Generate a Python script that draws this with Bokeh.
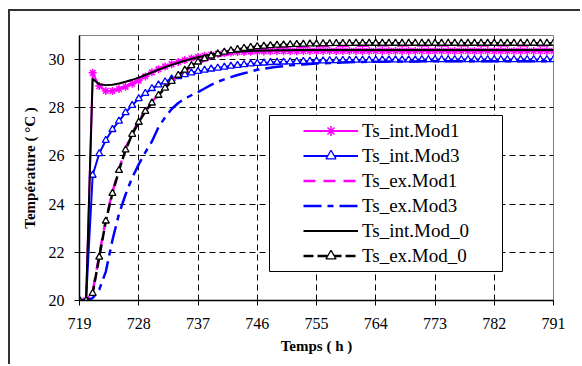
from bokeh.plotting import figure
from bokeh.models import Range1d, FixedTicker, BoxAnnotation
from bokeh.embed import file_html
from bokeh.resources import INLINE

hours = list(range(719, 792))
x_ticks = [719, 728, 737, 746, 755, 764, 773, 782, 791]
y_ticks = [20, 22, 24, 26, 28, 30]

ts_int_mod1 = [20.0, 20.0, 29.45, 28.9, 28.7, 28.7, 28.78, 28.87, 29.0, 29.13,
               29.3, 29.47, 29.6, 29.71, 29.81, 29.9, 29.98, 30.05, 30.11, 30.16,
               30.2, 30.24, 30.27, 30.29, 30.31, 30.32, 30.33, 30.34, 30.34, 30.35,
               30.35, 30.35, 30.35, 30.35, 30.36, 30.36, 30.36, 30.36, 30.36, 30.36,
               30.36, 30.36, 30.36, 30.36, 30.36, 30.36, 30.36, 30.36, 30.36, 30.36,
               30.36, 30.36, 30.36, 30.36, 30.36, 30.36, 30.36, 30.36, 30.36, 30.36,
               30.36, 30.36, 30.36, 30.36, 30.36, 30.36, 30.36, 30.36, 30.36, 30.36,
               30.36, 30.36, 30.36]
ts_int_mod3 = [20.0, 20.0, 25.2, 26.1, 26.65, 27.1, 27.45, 27.8, 28.1, 28.38,
               28.6, 28.8, 28.95, 29.08, 29.2, 29.3, 29.38, 29.45, 29.51, 29.56,
               29.61, 29.65, 29.69, 29.73, 29.76, 29.79, 29.82, 29.84, 29.86, 29.88,
               29.89, 29.9, 29.91, 29.92, 29.93, 29.94, 29.95, 29.95, 29.96, 29.96,
               29.97, 29.97, 29.98, 29.98, 29.98, 29.98, 29.99, 29.99, 29.99, 29.99,
               29.99, 29.99, 30.0, 30.0, 30.0, 30.0, 30.0, 30.0, 30.0, 30.0,
               30.0, 30.0, 30.0, 30.0, 30.0, 30.0, 30.0, 30.0, 30.0, 30.0,
               30.0, 30.0, 30.0]
ts_ex_mod1 = [20.0, 20.0, 20.35, 21.9, 23.35, 24.5, 25.45, 26.3, 26.95, 27.45,
              27.9, 28.25, 28.55, 28.85, 29.1, 29.33, 29.52, 29.7, 29.84, 29.96,
              30.06, 30.14, 30.21, 30.27, 30.32, 30.36, 30.4, 30.43, 30.45, 30.47,
              30.49, 30.5, 30.51, 30.52, 30.53, 30.54, 30.55, 30.55, 30.56, 30.56,
              30.56, 30.57, 30.57, 30.57, 30.57, 30.58, 30.58, 30.58, 30.58, 30.58,
              30.58, 30.58, 30.58, 30.58, 30.58, 30.58, 30.58, 30.58, 30.58, 30.58,
              30.58, 30.58, 30.58, 30.58, 30.58, 30.58, 30.58, 30.58, 30.58, 30.58,
              30.58, 30.58, 30.58]
ts_ex_mod3 = [20.0, 20.0, 20.1, 20.45, 21.2, 22.5, 23.6, 24.4, 25.1, 25.65,
              26.15, 26.6, 27.2, 27.6, 27.95, 28.2, 28.38, 28.52, 28.65, 28.8,
              28.95, 29.08, 29.18, 29.27, 29.36, 29.43, 29.5, 29.58, 29.62, 29.66,
              29.7, 29.73, 29.76, 29.78, 29.8, 29.82, 29.84, 29.85, 29.86, 29.87,
              29.88, 29.89, 29.9, 29.9, 29.91, 29.91, 29.91, 29.92, 29.92, 29.92,
              29.92, 29.92, 29.93, 29.93, 29.93, 29.93, 29.93, 29.93, 29.93, 29.93,
              29.93, 29.93, 29.93, 29.93, 29.93, 29.93, 29.93, 29.93, 29.93, 29.93,
              29.93, 29.93, 29.93]
ts_int_mod_0 = [20.0, 20.0, 29.2, 28.98, 28.94, 28.96, 29.01, 29.08, 29.16, 29.25,
                29.36, 29.47, 29.58, 29.68, 29.78, 29.87, 29.95, 30.03, 30.1, 30.16,
                30.21, 30.25, 30.28, 30.31, 30.33, 30.35, 30.36, 30.37, 30.38, 30.38,
                30.39, 30.39, 30.39, 30.4, 30.4, 30.4, 30.4, 30.4, 30.4, 30.4,
                30.4, 30.4, 30.4, 30.4, 30.4, 30.4, 30.4, 30.4, 30.4, 30.4,
                30.4, 30.4, 30.4, 30.4, 30.4, 30.4, 30.4, 30.4, 30.4, 30.4,
                30.4, 30.4, 30.4, 30.4, 30.4, 30.4, 30.4, 30.4, 30.4, 30.4,
                30.4, 30.4, 30.4]
ts_ex_mod_0 = [20.0, 20.0, 20.3, 21.8, 23.3, 24.45, 25.4, 26.25, 26.9, 27.4,
               27.85, 28.2, 28.52, 28.82, 29.1, 29.35, 29.56, 29.75, 29.9, 30.04,
               30.15, 30.24, 30.31, 30.37, 30.42, 30.47, 30.51, 30.54, 30.56, 30.58,
               30.6, 30.61, 30.62, 30.63, 30.64, 30.65, 30.65, 30.66, 30.66, 30.67,
               30.67, 30.67, 30.68, 30.68, 30.68, 30.68, 30.68, 30.68, 30.68, 30.68,
               30.68, 30.68, 30.68, 30.68, 30.68, 30.68, 30.68, 30.68, 30.68, 30.68,
               30.68, 30.68, 30.68, 30.68, 30.68, 30.68, 30.68, 30.68, 30.68, 30.68,
               30.68, 30.68, 30.68]

FONT = "Liberation Serif"
MAGENTA = "#FF00FF"
BLUE = "#0000FF"

p = figure(width=572, height=355, output_backend="svg", toolbar_location=None,
           x_range=Range1d(719, 791), y_range=Range1d(20, 31),
           min_border_left=69, min_border_right=29, min_border_top=24, min_border_bottom=66,
           styles={"margin-left": "8px", "margin-top": "9px",
                   "border-top": "2px solid #333333", "border-left": "2px solid #333333"})
p.background_fill_color = "white"
p.border_fill_color = "white"
p.outline_line_color = "#808080"
p.outline_line_width = 1

# axes
for ax in (p.xaxis[0], p.yaxis[0]):
    ax.axis_line_color = "black"
    ax.axis_line_width = 1.5
    ax.major_tick_line_color = "black"
    ax.major_tick_out = 5
    ax.major_tick_in = 0
    ax.minor_tick_line_color = None
    ax.major_label_text_font = FONT
    ax.major_label_text_font_size = "16px"
    ax.major_label_text_color = "black"
    ax.axis_label_text_font = FONT
    ax.axis_label_text_font_size = "15px"
    ax.axis_label_text_font_style = "bold"
    ax.axis_label_text_color = "black"

p.xaxis.ticker = FixedTicker(ticks=x_ticks)
p.yaxis.ticker = FixedTicker(ticks=y_ticks)
p.xaxis.axis_label = "Temps ( h )"
p.yaxis.axis_label = "Température ( °C )"
p.xaxis.major_label_standoff = 12
p.yaxis.major_label_standoff = 10
p.xaxis.axis_label_standoff = 6
p.yaxis.axis_label_standoff = 8

p.xgrid.ticker = FixedTicker(ticks=x_ticks[1:-1])
p.ygrid.ticker = FixedTicker(ticks=y_ticks[1:])
for g in (p.xgrid[0], p.ygrid[0]):
    g.grid_line_color = "black"
    g.grid_line_dash = "6 4"
    g.grid_line_width = 1

# legend box (white, drawn before the legend); screen units relative to the frame
box = BoxAnnotation(left=190, right=423, top=185, bottom=29,
                    left_units="screen", right_units="screen",
                    top_units="screen", bottom_units="screen",
                    fill_color="white", fill_alpha=1.0,
                    line_color="black", line_width=1, line_alpha=1.0)

# series
p.line(hours, ts_int_mod1, color=MAGENTA, line_width=2, legend_label="Ts_int.Mod1")
p.scatter(hours, ts_int_mod1, marker="asterisk", size=8, line_color=MAGENTA, line_width=1.5,
          legend_label="Ts_int.Mod1")

p.line(hours, ts_int_mod3, color=BLUE, line_width=2, legend_label="Ts_int.Mod3")
p.scatter(hours, ts_int_mod3, marker="triangle", size=7, line_color=BLUE, fill_color="white",
          line_width=1.3, legend_label="Ts_int.Mod3")

p.line(hours, ts_ex_mod1, color=MAGENTA, line_width=2.5, line_dash="12 8", legend_label="Ts_ex.Mod1")

p.line(hours, ts_ex_mod3, color=BLUE, line_width=2.5, line_dash="18 6 6 6", legend_label="Ts_ex.Mod3")

p.line(hours, ts_int_mod_0, color="black", line_width=2, legend_label="Ts_int.Mod_0")

p.line(hours, ts_ex_mod_0, color="black", line_width=2.5, line_dash="10 4", legend_label="Ts_ex.Mod_0")
p.scatter(hours, ts_ex_mod_0, marker="triangle", size=7, line_color="black", fill_color="white",
          line_width=1.3, legend_label="Ts_ex.Mod_0")

lg = p.legend[0]
p.center.remove(lg)
p.add_layout(box)
p.add_layout(lg)
lg.location = (221, 29)
lg.padding = 3
lg.margin = 0
lg.spacing = 0
lg.glyph_width = 55
lg.glyph_height = 25
lg.label_height = 25
lg.label_standoff = 4
lg.label_text_font = FONT
lg.label_text_font_size = "19px"
lg.label_text_color = "black"
lg.border_line_alpha = 0
lg.background_fill_alpha = 0

open("out.html", "w").write(file_html(p, INLINE))
